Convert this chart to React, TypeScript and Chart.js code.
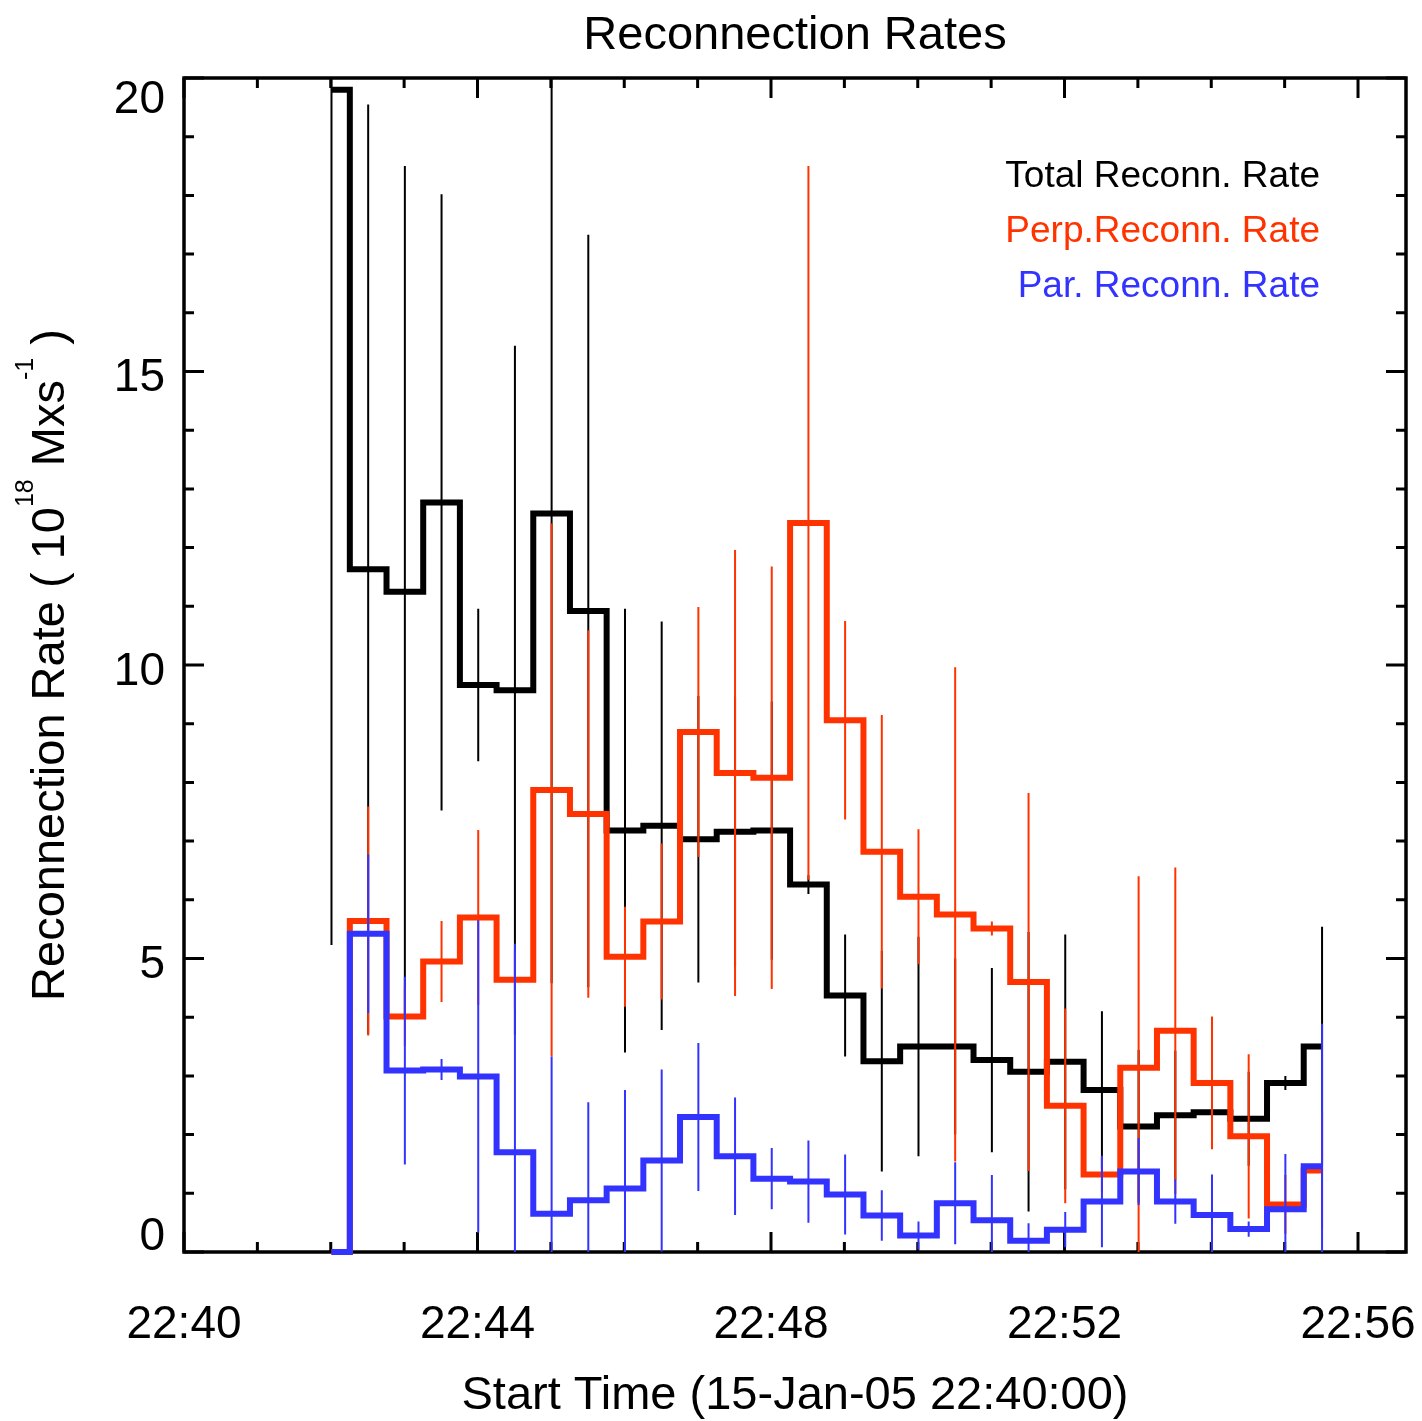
import React, { useEffect, useRef } from "react";
import { Chart, registerables } from "chart.js";

Chart.register(...registerables);

// minutes after 22:40:00
const timesMin = [
  2.01, 2.51, 3.01, 3.51, 4.01, 4.51, 5.01, 5.51, 6.01, 6.51, 7.01, 7.51, 8.01, 8.51,
  9.01, 9.51, 10.01, 10.51, 11.01, 11.51, 12.01, 12.51, 13.01, 13.51, 14.01, 14.51, 15.01, 15.51,
];

const totalRate = [
  19.8, 11.63, 11.25, 12.77, 9.66, 9.57, 12.58, 10.92, 7.18, 7.26, 7.03, 7.16, 7.18, 6.26,
  4.37, 3.25, 3.5, 3.5, 3.27, 3.07, 3.24, 2.76, 2.14, 2.33, 2.38, 2.27, 2.88, 3.5,
];
const totalErr = [
  14.57, 7.92, 7.25, 5.25, 1.3, 5.87, 8.0, 6.41, 3.78, 3.48, 2.44, 2.3, 2.2, 0.16,
  1.04, 1.88, 1.87, 1.5, 1.57, 2.38, 2.17, 1.34, 1.3, 1.1, 0.5, 0.8, 0.12, 2.04,
];

const perpRate = [
  0, 5.64, 4.01, 4.95, 5.7, 4.64, 7.87, 7.46, 5.03, 5.63, 8.86, 8.16, 8.08, 12.42,
  9.06, 6.82, 6.05, 5.75, 5.51, 4.6, 2.49, 1.32, 3.14, 3.77, 2.88, 1.97, 0.81, 1.39,
];
const perpErr = [
  0, 1.95, 0.5, 0.69, 1.49, 0.5, 4.54, 3.13, 0.85, 1.33, 2.13, 3.8, 3.6, 6.08,
  1.69, 2.33, 1.15, 4.21, 0.12, 3.22, 1.66, 0.3, 3.26, 2.78, 1.13, 1.4, 0.5, 1.0,
];

const parRate = [
  0, 5.42, 3.09, 3.11, 2.99, 1.7, 0.65, 0.88, 1.08, 1.56, 2.3, 1.63, 1.25, 1.2,
  0.98, 0.62, 0.28, 0.83, 0.54, 0.19, 0.38, 0.86, 1.37, 0.86, 0.63, 0.39, 0.73, 1.46,
];
const parErr = [
  0, 1.35, 1.6, 0.18, 2.66, 3.55, 2.68, 1.67, 1.68, 1.55, 1.26, 1.0, 0.52, 0.7,
  0.68, 0.43, 0.24, 0.7, 0.77, 0.3, 0.3, 0.78, 0.57, 0.38, 0.69, 0.13, 0.94, 2.43,
];

const xTickLabels = ["22:40", "22:44", "22:48", "22:52", "22:56"];
const legendLabels = ["Total Reconn. Rate", "Perp.Reconn. Rate", "Par. Reconn. Rate"];

const FONT = '"Liberation Sans", Arial, Helvetica, sans-serif';
const BLACK = "#000000";
const RED = "#ff3300";
const BLUE = "#3333ff";
const legendColors = [BLACK, RED, BLUE];

function steps(vals: number[]) {
  return vals.map((v, i) => ({ x: timesMin[i], y: v }));
}

function errSegments(vals: number[], errs: number[]) {
  const out: { x: number; y: number | null }[] = [];
  vals.forEach((v, i) => {
    out.push({ x: timesMin[i], y: v - errs[i] });
    out.push({ x: timesMin[i], y: v + errs[i] });
    out.push({ x: timesMin[i], y: null });
  });
  return out;
}

const framePlugin = {
  id: "idlFrame",
  beforeDatasetsDraw(chart: any) {
    const { ctx, chartArea } = chart;
    const { left, right, top, bottom } = chartArea;
    const xs = chart.scales.x;
    const ys = chart.scales.y;
    ctx.save();
    ctx.strokeStyle = "#000";
    ctx.lineWidth = 3.5;
    ctx.lineCap = "square";
    ctx.strokeRect(left, top, right - left, bottom - top);
    ctx.lineWidth = 3;
    ctx.lineCap = "butt";
    ctx.beginPath();
    xs.ticks.forEach((t: any) => {
      const v = t.value;
      if (Math.abs(v - Math.round(v)) > 1e-6) return;
      const px = xs.getPixelForValue(v);
      const len = Math.round(v) % 4 === 0 ? 20 : 10;
      ctx.moveTo(px, bottom);
      ctx.lineTo(px, bottom - len);
      ctx.moveTo(px, top);
      ctx.lineTo(px, top + len);
    });
    ys.ticks.forEach((t: any) => {
      const v = t.value;
      if (Math.abs(v - Math.round(v)) > 1e-6) return;
      const py = ys.getPixelForValue(v);
      const len = Math.round(v) % 5 === 0 ? 20 : 10;
      ctx.moveTo(left, py);
      ctx.lineTo(left + len, py);
      ctx.moveTo(right, py);
      ctx.lineTo(right - len, py);
    });
    ctx.stroke();
    ctx.restore();
  },
  afterDraw(chart: any) {
    const { ctx, chartArea } = chart;
    const { left, right, top, bottom } = chartArea;
    const ys = chart.scales.y;
    ctx.save();
    ctx.fillStyle = "#000";
    // y tick labels
    ctx.font = `46px ${FONT}`;
    ctx.textAlign = "right";
    ctx.textBaseline = "middle";
    ys.ticks.forEach((t: any) => {
      const v = t.value;
      if (Math.abs(v - Math.round(v)) > 1e-6 || Math.round(v) % 5 !== 0) return;
      let cy = ys.getPixelForValue(v) + 7;
      cy = Math.max(top + 22, Math.min(bottom - 15, cy));
      ctx.fillText(String(Math.round(v)), left - 19, cy);
    });
    // y axis title with superscripts
    const parts = [
      { text: "Reconnection Rate ( 10", sup: false },
      { text: "18", sup: true },
      { text: " Mxs", sup: false },
      { text: "-1", sup: true },
      { text: " )", sup: false },
    ];
    const mainFont = `47px ${FONT}`;
    const supFont = `25px ${FONT}`;
    let total = 0;
    const widths = parts.map((p) => {
      ctx.font = p.sup ? supFont : mainFont;
      const w = ctx.measureText(p.text).width;
      total += w;
      return w;
    });
    ctx.translate(64, (top + bottom) / 2);
    ctx.rotate(-Math.PI / 2);
    ctx.textAlign = "left";
    ctx.textBaseline = "alphabetic";
    let x = -total / 2;
    parts.forEach((p, i) => {
      ctx.font = p.sup ? supFont : mainFont;
      ctx.fillText(p.text, x, p.sup ? -31 : 0);
      x += widths[i];
    });
    ctx.setTransform(1, 0, 0, 1, 0, 0);
    // legend
    ctx.font = `37px ${FONT}`;
    ctx.textAlign = "right";
    ctx.textBaseline = "alphabetic";
    legendLabels.forEach((lab, i) => {
      ctx.fillStyle = legendColors[i];
      ctx.fillText(lab, right - 86, top + 109 + i * 55);
    });
    ctx.restore();
  },
};

export default function App() {
  const ref = useRef<HTMLCanvasElement | null>(null);

  useEffect(() => {
    if (!ref.current) return;
    const stepBase = {
      type: "line" as const,
      stepped: "middle" as const,
      pointRadius: 0,
      borderWidth: 6,
      borderJoinStyle: "miter" as const,
      borderCapStyle: "butt" as const,
      fill: false,
      clip: false as const,
    };
    const errBase = {
      type: "line" as const,
      pointRadius: 0,
      borderWidth: 2,
      borderCapStyle: "butt" as const,
      fill: false,
      spanGaps: false,
    };
    const chart = new Chart(ref.current, {
      type: "line",
      data: {
        datasets: [
          { ...stepBase, label: "Total", data: steps(totalRate), borderColor: BLACK, order: 6 },
          { ...errBase, label: "Total err", data: errSegments(totalRate, totalErr), borderColor: BLACK, order: 5 },
          { ...stepBase, label: "Perp", data: steps(perpRate), borderColor: RED, order: 4 },
          { ...errBase, label: "Perp err", data: errSegments(perpRate, perpErr), borderColor: RED, order: 3 },
          { ...stepBase, label: "Par", data: steps(parRate), borderColor: BLUE, order: 2 },
          { ...errBase, label: "Par err", data: errSegments(parRate, parErr), borderColor: BLUE, order: 1 },
        ] as any,
      },
      options: {
        animation: false,
        responsive: false,
        devicePixelRatio: 1,
        events: [],
        layout: { padding: { left: 0, right: 16, top: 0, bottom: 0 } },
        plugins: {
          legend: { display: false },
          tooltip: { enabled: false },
          title: {
            display: true,
            text: "Reconnection Rates",
            fullSize: false,
            color: "#000",
            font: { family: FONT, size: 47, weight: "normal" },
            padding: { top: 8, bottom: 13.6 },
          },
        },
        scales: {
          x: {
            type: "linear",
            min: 0,
            max: 16.654,
            afterFit: (s: any) => {
              s.height = 169;
              s.paddingLeft = 0;
              s.paddingRight = 0;
            },
            grid: { display: false },
            border: { display: false },
            ticks: {
              stepSize: 1,
              includeBounds: false,
              autoSkip: false,
              maxRotation: 0,
              minRotation: 0,
              padding: 38,
              color: "#000",
              font: { family: FONT, size: 46 },
              callback: (v: any) => {
                const n = Number(v);
                if (Math.abs(n - Math.round(n)) > 1e-6) return "";
                const r = Math.round(n);
                return r % 4 === 0 ? xTickLabels[r / 4] ?? "" : "";
              },
            },
            title: {
              display: true,
              text: "Start Time (15-Jan-05 22:40:00)",
              color: "#000",
              font: { family: FONT, size: 47 },
              padding: { top: 0, bottom: -3 },
            },
          },
          y: {
            type: "linear",
            min: 0,
            max: 20,
            afterFit: (s: any) => {
              s.width = 184;
              s.paddingTop = 0;
              s.paddingBottom = 0;
            },
            grid: { display: false },
            border: { display: false },
            ticks: { display: false, stepSize: 1 },
          },
        },
      } as any,
      plugins: [framePlugin],
    });
    return () => chart.destroy();
  }, []);

  return (
    <div style={{ position: "fixed", left: 0, top: 0, width: 1422, height: 1421, background: "#fff" }}>
      <canvas ref={ref} width={1422} height={1421} style={{ display: "block", width: 1422, height: 1421 }} />
    </div>
  );
}
